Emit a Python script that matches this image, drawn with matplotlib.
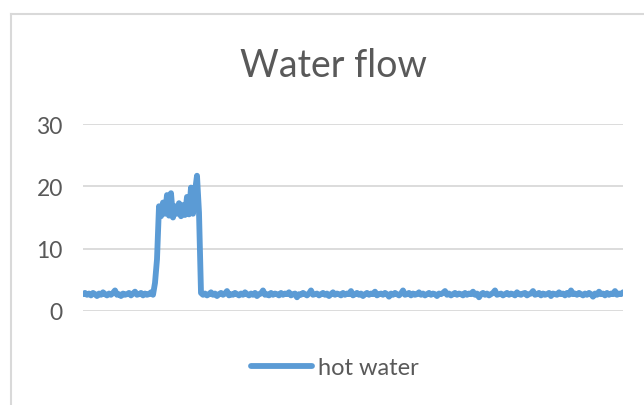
import matplotlib
matplotlib.use("Agg")
import matplotlib.pyplot as plt
from matplotlib.lines import Line2D

plt.rcParams['font.family'] = ['Lato', 'DejaVu Sans']

# --- DATA ---
TITLE = "Water flow"
SERIES_NAME = "hot water"
Y_TICKS = [0, 10, 20, 30]

before = [2.7, 2.9, 2.6, 2.8, 2.5, 2.9, 2.7, 2.4, 2.8, 2.6, 3.0, 2.7,
          2.5, 2.8, 2.6, 2.9, 3.3, 2.6, 2.7, 2.4, 2.8, 2.6, 2.7, 2.9,
          2.5, 2.8, 3.1, 2.6, 2.7, 2.9, 2.5, 2.8, 2.6, 2.7, 3.0, 2.6]
ramp = [4.5, 8.3]
burst = [16.8, 15.2, 17.4, 15.6, 18.6, 15.3, 18.9, 15.0, 16.8, 15.6, 17.3,
         15.2, 17.0, 15.4, 18.3, 15.5, 19.8, 15.6, 19.2, 21.7, 15.8]
after = [2.9, 2.6, 2.8, 2.5, 2.7, 3.0, 2.6, 2.8, 2.4, 2.7,
         2.9, 2.6, 2.8, 3.2, 2.5, 2.7, 2.6, 2.9, 2.7, 2.5,
         2.8, 2.6, 3.0, 2.7, 2.5, 2.8, 2.6, 2.9, 2.4, 2.7,
         2.8, 3.3, 2.6, 2.7, 2.5, 2.9, 2.6, 2.8, 2.7, 2.5,
         2.9, 2.6, 2.8, 2.7, 3.0, 2.5, 2.7, 2.8, 2.2, 2.7,
         2.6, 2.9, 2.7, 2.5, 2.8, 3.3, 2.6, 2.7, 2.8, 2.5,
         2.7, 2.9, 2.6, 2.8, 2.4, 2.7, 3.0, 2.6, 2.8, 2.7,
         2.5, 2.9, 2.6, 2.8, 2.7, 3.2, 2.5, 2.7, 2.9, 2.6,
         2.8, 2.4, 2.7, 2.9, 2.6, 2.8, 2.7, 3.1, 2.5, 2.7,
         2.8, 2.6, 2.9, 2.7, 2.3, 2.8, 2.6, 2.9, 2.7, 2.5,
         2.8, 3.3, 2.6, 2.7, 2.9, 2.5, 2.8, 2.6, 2.7, 3.0,
         2.6, 2.8, 2.5, 2.7, 2.9, 2.6, 2.8, 2.7, 2.4, 2.8,
         2.7, 2.9, 3.2, 2.6, 2.8, 2.5, 2.7, 2.9, 2.6, 2.8,
         2.7, 2.5, 2.9, 2.6, 2.8, 2.7, 3.1, 2.6, 2.8, 2.2,
         2.7, 2.9, 2.6, 2.8, 2.5, 2.7, 2.9, 3.3, 2.6, 2.7,
         2.8, 2.5, 2.7, 2.9, 2.6, 2.8, 2.7, 2.5, 3.0, 2.7,
         2.6, 2.8, 2.9, 2.5, 2.7, 2.8, 3.2, 2.6, 2.7, 2.9,
         2.5, 2.8, 2.6, 2.7, 2.9, 2.4, 2.8, 2.7, 2.6, 3.0,
         2.7, 2.8, 2.5, 2.9, 2.6, 3.3, 2.7, 2.8, 2.6, 2.9,
         2.7, 2.5, 2.8, 2.6, 2.9, 2.7, 2.3, 2.8, 2.6, 3.1,
         2.7, 2.8, 2.5, 2.9, 2.6, 2.8, 2.7, 3.2, 2.6, 2.8,
         2.7, 3.0]

flow = before + ramp + burst + after

TEXT_GREY = '#595959'
GRID_GREY = '#d9d9d9'
LINE_BLUE = '#5b9bd5'

fig = plt.figure(figsize=(6.44, 4.06), dpi=100)
W, H = 644, 406

# chart outline (only left and top edges are visible in the crop)
fig.add_artist(Line2D([11 / W, 11 / W], [0, 1 - 15 / H], transform=fig.transFigure,
                      color=GRID_GREY, linewidth=1.5))
fig.add_artist(Line2D([11 / W, 1], [1 - 15 / H, 1 - 15 / H], transform=fig.transFigure,
                      color=GRID_GREY, linewidth=1.5))

ax = fig.add_axes([83 / W, (H - 312) / H, (623 - 83) / W, (312 - 125) / H])
ax.plot(range(len(flow)), flow, color=LINE_BLUE, linewidth=4.2,
        solid_joinstyle='round', solid_capstyle='round', label=SERIES_NAME)

ax.set_xlim(0, len(flow) - 1)
ax.set_ylim(0, 30)
ax.set_yticks(Y_TICKS)
ax.set_xticks([])
ax.grid(True, axis='y', color=GRID_GREY, linewidth=1.3)
ax.set_axisbelow(True)
for s in ax.spines.values():
    s.set_visible(False)
ax.tick_params(axis='y', length=0, pad=14.5, labelsize=16.5, labelcolor=TEXT_GREY)

fig.text(334 / W, 1 - 66 / H, TITLE, ha='center', va='center', fontsize=27,
         color=TEXT_GREY)

leg = fig.legend(loc='center', bbox_to_anchor=(335 / W, 1 - 369 / H), frameon=False,
                 fontsize=17, handlelength=2.6, handletextpad=0.25)
for t in leg.get_texts():
    t.set_color(TEXT_GREY)

fig.savefig('out.png', dpi=100)
